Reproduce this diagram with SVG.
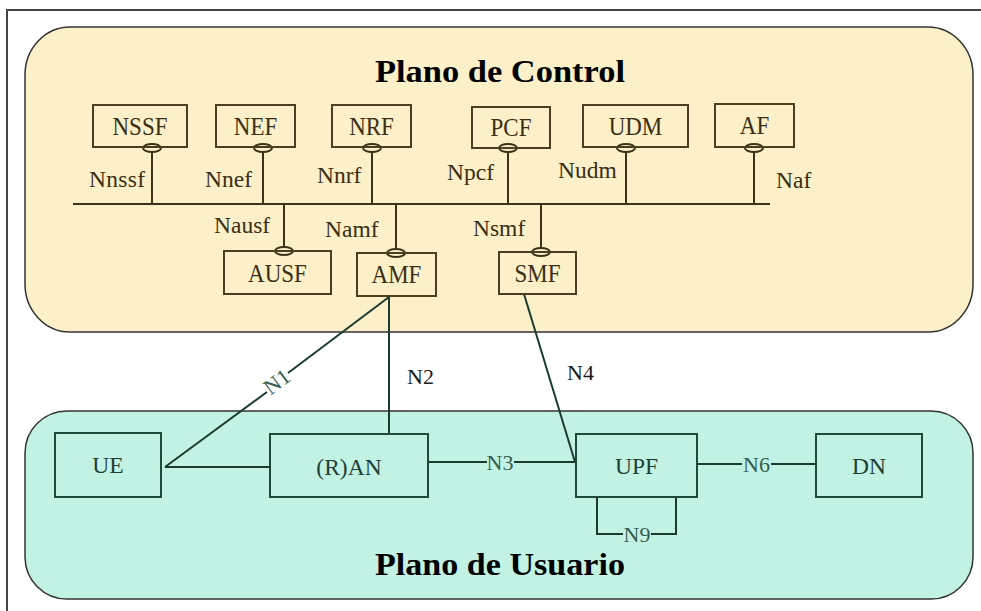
<svg xmlns="http://www.w3.org/2000/svg" width="981" height="611" viewBox="0 0 981 611">
<style>
.cbox{fill:none;stroke:#4b3d1f;stroke-width:2}
.ctxt{font-family:"Liberation Serif","Times New Roman",serif;font-size:23px;fill:#3a2e14;text-anchor:middle}
.clab{font-family:"Liberation Serif","Times New Roman",serif;font-size:23.5px;fill:#3a2e14}
.cline{stroke:#3d3217;stroke-width:2;fill:none}
.port{fill:#fbf0c8;stroke:#3d3217;stroke-width:2}
.ubox{fill:none;stroke:#1f4a3a;stroke-width:2}
.utxt{font-family:"Liberation Serif","Times New Roman",serif;font-size:23.5px;fill:#1f3f35;text-anchor:middle}
.uline{stroke:#1b3b30;stroke-width:2;fill:none}
.ulab{font-family:"Liberation Serif","Times New Roman",serif;font-size:22px;fill:#355e50;text-anchor:middle}
.xlab{font-family:"Liberation Serif","Times New Roman",serif;font-size:22px;fill:#1a1a1a}
.title{font-family:"Liberation Serif","Times New Roman",serif;font-size:32px;font-weight:bold;fill:#000;text-anchor:middle}
</style>
<rect x="0" y="0" width="981" height="611" fill="#ffffff"/>
<rect x="7" y="10" width="1000" height="700" fill="none" stroke="#444" stroke-width="2"/>
<g id="control-plane">
<rect x="25" y="27" width="948" height="305" rx="45" ry="48" fill="#fbf0c8" stroke="#333" stroke-width="1.5"/>
<text class="title" x="500" y="82" textLength="250" lengthAdjust="spacingAndGlyphs">Plano de Control</text>
</g>
<g id="user-plane">
<rect x="25" y="411" width="948" height="188" rx="42" ry="42" fill="#c2f2e4" stroke="#333" stroke-width="1.5"/>
<text class="title" x="500" y="575" textLength="250" lengthAdjust="spacingAndGlyphs">Plano de Usuario</text>
</g>
<g id="connectors">
<line class="cline" x1="73" y1="204" x2="770" y2="204"/>
<line class="cline" x1="152" y1="148" x2="152" y2="204"/>
<line class="cline" x1="263" y1="148" x2="263" y2="204"/>
<line class="cline" x1="372" y1="148" x2="372" y2="204"/>
<line class="cline" x1="508" y1="148" x2="508" y2="204"/>
<line class="cline" x1="626" y1="148" x2="626" y2="204"/>
<line class="cline" x1="754" y1="148" x2="754" y2="204"/>
<line class="cline" x1="284" y1="204" x2="284" y2="251"/>
<line class="cline" x1="396" y1="204" x2="396" y2="253"/>
<line class="cline" x1="541" y1="204" x2="541" y2="252"/>
<ellipse class="port" cx="152" cy="148" rx="9" ry="4"/>
<ellipse class="port" cx="263" cy="148" rx="9" ry="4"/>
<ellipse class="port" cx="372" cy="148" rx="9" ry="4"/>
<ellipse class="port" cx="508" cy="148" rx="9" ry="4"/>
<ellipse class="port" cx="626" cy="148" rx="9" ry="4"/>
<ellipse class="port" cx="754" cy="148" rx="9" ry="4"/>
<ellipse class="port" cx="284" cy="251" rx="9" ry="4"/>
<ellipse class="port" cx="396" cy="253" rx="9" ry="4"/>
<ellipse class="port" cx="541" cy="252" rx="9" ry="4"/>
<text class="clab" x="89" y="187" textLength="56">Nnssf</text>
<text class="clab" x="205" y="187">Nnef</text>
<text class="clab" x="317" y="183">Nnrf</text>
<text class="clab" x="447" y="180">Npcf</text>
<text class="clab" x="558" y="178">Nudm</text>
<text class="clab" x="776" y="188">Naf</text>
<text class="clab" x="214" y="233">Nausf</text>
<text class="clab" x="325" y="237">Namf</text>
<text class="clab" x="473" y="236">Nsmf</text>
<line class="uline" x1="165" y1="467" x2="267" y2="392"/>
<line class="uline" x1="288" y1="373" x2="389" y2="297"/>
<text class="ulab" x="277" y="389" font-size="19" fill="#444" transform="rotate(-37 277 382)">N1</text>
<line class="uline" x1="389" y1="297" x2="389" y2="434"/>
<text class="xlab" x="407" y="384">N2</text>
<line class="uline" x1="524" y1="294" x2="575" y2="462"/>
<text class="xlab" x="567" y="380">N4</text>
<line class="uline" x1="165" y1="467" x2="270" y2="467"/>
<line class="uline" x1="428" y1="462" x2="487" y2="462"/>
<line class="uline" x1="514" y1="462" x2="576" y2="462"/>
<text class="ulab" x="500" y="470">N3</text>
<line class="uline" x1="697" y1="464" x2="742" y2="464"/>
<line class="uline" x1="771" y1="464" x2="816" y2="464"/>
<text class="ulab" x="756.5" y="472">N6</text>
<path class="uline" d="M597,497 V534 H623 M651,534 H676 V497"/>
<text class="ulab" x="637" y="542">N9</text>
</g>
<g id="NSSF"><rect class="cbox" x="93" y="105" width="94" height="42"/><text class="ctxt" x="140" y="135" transform="matrix(1 0 0 1.1 0 -13.5)">NSSF</text></g>
<g id="NEF"><rect class="cbox" x="216" y="105" width="79" height="42"/><text class="ctxt" x="255.5" y="135" transform="matrix(1 0 0 1.1 0 -13.5)">NEF</text></g>
<g id="NRF"><rect class="cbox" x="332" y="105" width="79" height="42"/><text class="ctxt" x="371.5" y="135" transform="matrix(1 0 0 1.1 0 -13.5)">NRF</text></g>
<g id="PCF"><rect class="cbox" x="472" y="107" width="78" height="41"/><text class="ctxt" x="511" y="136" transform="matrix(1 0 0 1.1 0 -13.6)">PCF</text></g>
<g id="UDM"><rect class="cbox" x="583" y="105" width="105" height="42"/><text class="ctxt" x="635.5" y="135" transform="matrix(1 0 0 1.1 0 -13.5)">UDM</text></g>
<g id="AF"><rect class="cbox" x="715" y="104" width="79" height="43"/><text class="ctxt" x="754.5" y="134" transform="matrix(1 0 0 1.1 0 -13.4)">AF</text></g>
<g id="AUSF"><rect class="cbox" x="224" y="251" width="107" height="43"/><text class="ctxt" x="277.5" y="282" transform="matrix(1 0 0 1.1 0 -28.2)">AUSF</text></g>
<g id="AMF"><rect class="cbox" x="357" y="253" width="79" height="43"/><text class="ctxt" x="396.5" y="283" transform="matrix(1 0 0 1.1 0 -28.3)">AMF</text></g>
<g id="SMF"><rect class="cbox" x="499" y="252" width="77" height="42"/><text class="ctxt" x="537.5" y="282" transform="matrix(1 0 0 1.1 0 -28.2)">SMF</text></g>
<g id="UE"><rect class="ubox" x="55" y="433" width="106" height="64"/><text class="utxt" x="108" y="473">UE</text></g>
<g id="RAN"><rect class="ubox" x="270" y="434" width="158" height="63"/><text class="utxt" x="349" y="475">(R)AN</text></g>
<g id="UPF"><rect class="ubox" x="576" y="434" width="121" height="63"/><text class="utxt" x="636.5" y="474">UPF</text></g>
<g id="DN"><rect class="ubox" x="816" y="434" width="106" height="63"/><text class="utxt" x="869" y="474">DN</text></g>
</svg>
